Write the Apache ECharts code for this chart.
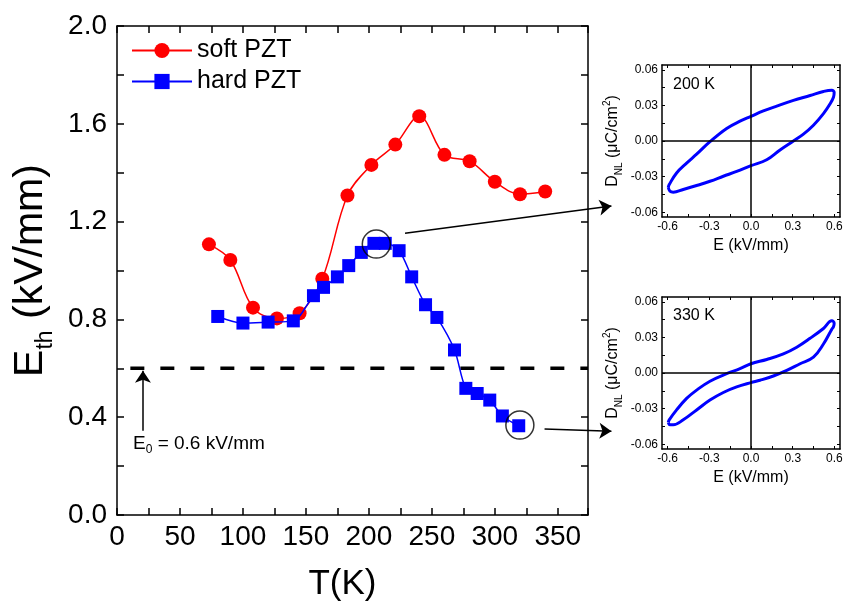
<!DOCTYPE html>
<html><head><meta charset="utf-8">
<script src="https://cdn.jsdelivr.net/npm/echarts@6/dist/echarts.min.js"></script>
<style>html,body{margin:0;padding:0;background:#fff}#c{width:843px;height:601px}</style>
</head><body><div id="c"></div>
<script>
// ---- data ----
const softT = [73, 90, 108, 127, 145, 163, 183, 202, 221, 240, 260, 280, 300, 320, 340];
const softE = [1.107, 1.043, 0.848, 0.804, 0.825, 0.966, 1.307, 1.432, 1.515, 1.631, 1.473, 1.447, 1.363, 1.312, 1.323];
const hardT = [80, 100, 120, 140, 156, 164, 175, 184, 194, 204, 213, 224, 234, 245, 254, 268, 277, 286, 296, 306, 319];
const hardE = [0.812, 0.785, 0.789, 0.794, 0.897, 0.931, 0.974, 1.020, 1.074, 1.111, 1.111, 1.081, 0.974, 0.860, 0.808, 0.675, 0.518, 0.497, 0.470, 0.405, 0.365];
const E0 = 0.6;
const dashStartT = 10.6;
const arrowE0 = [[20.6, 0.345], [20.6, 0.59]];
const circled = [[205.9, 1.108], [319.9, 0.368]];
const conn1 = [[228.7, 1.152], [392.6, 1.2635]];
const conn2 = [[339.5, 0.3516], [392.6, 0.343]];
const loop200 = [[-0.595,-0.039],[-0.588,-0.0367],[-0.535,-0.0269],[-0.463,-0.0186],[-0.391,-0.0111],[-0.295,-0.0006],[-0.175,0.0106],[-0.079,0.0167],[0,0.0208],[0.089,0.0253],[0.185,0.0294],[0.305,0.0342],[0.425,0.0383],[0.521,0.0417],[0.581,0.0428],[0.598,0.0411],[0.593,0.0369],[0.569,0.0314],[0.521,0.0231],[0.449,0.0133],[0.377,0.0058],[0.305,0.0],[0.209,-0.0075],[0.113,-0.0158],[0,-0.0208],[-0.103,-0.0256],[-0.199,-0.0297],[-0.295,-0.0339],[-0.391,-0.0375],[-0.487,-0.0408],[-0.559,-0.0431],[-0.583,-0.0422],[-0.595,-0.039]];
const loop330 = [[-0.595,-0.0415],[-0.588,-0.0395],[-0.535,-0.0311],[-0.463,-0.0214],[-0.391,-0.0144],[-0.295,-0.0069],[-0.175,-0.0006],[-0.079,0.0036],[0,0.0078],[0.113,0.0114],[0.233,0.0161],[0.329,0.0217],[0.425,0.0292],[0.521,0.0375],[0.581,0.0439],[0.598,0.0419],[0.593,0.039],[0.581,0.0369],[0.521,0.0244],[0.449,0.0133],[0.353,0.0078],[0.257,0.0022],[0.161,-0.0025],[0.065,-0.0061],[0,-0.0081],[-0.103,-0.0117],[-0.199,-0.0164],[-0.295,-0.0228],[-0.391,-0.0311],[-0.487,-0.0394],[-0.559,-0.0436],[-0.583,-0.0436],[-0.595,-0.0415]];
const insetXLabels = [-0.6, -0.3, 0, 0.3, 0.6];
const insetXTicks = [-0.6, -0.45, -0.3, -0.15, 0, 0.15, 0.3, 0.45, 0.6];
const insetYLabels = [-0.06, -0.03, 0, 0.03, 0.06];
const insetYTicks = [-0.06, -0.045, -0.03, -0.015, 0, 0.015, 0.03, 0.045, 0.06];

// ---- chart ----
const FF = 'Liberation Sans, Arial, sans-serif';
const chart = echarts.init(document.getElementById('c'));
const axLine = {show: true, onZero: false, lineStyle: {color: '#000', width: 1.5}};

function mainX(pos, labels) {
  return {
    gridIndex: 0, type: 'value', position: pos, min: 0, max: 374, interval: 25,
    axisLine: axLine, splitLine: {show: false},
    axisTick: {show: true, inside: true, length: 7, interval: 0, lineStyle: {color: '#000', width: 1.5}},
    axisLabel: labels ? {show: true, interval: 0, margin: 8, fontSize: 28, fontFamily: FF, color: '#000',
      formatter: v => (v % 50 === 0 && v <= 350) ? String(v) : ''} : {show: false},
    name: labels ? 'T(K)' : '', nameLocation: 'middle', nameGap: 52,
    nameTextStyle: {fontSize: 35, fontFamily: FF, color: '#000', padding: [0, 20, 0, 0]}
  };
}
function mainY(pos, labels) {
  return {
    gridIndex: 0, type: 'value', position: pos, min: 0, max: 2, interval: 0.2,
    axisLine: axLine, splitLine: {show: false},
    axisTick: {show: true, inside: true, length: 7, interval: 0, lineStyle: {color: '#000', width: 1.5}},
    axisLabel: labels ? {show: true, interval: 0, margin: 10, fontSize: 28, fontFamily: FF, color: '#000',
      formatter: v => (Math.round(v * 10) % 4 === 0) ? v.toFixed(1) : ''} : {show: false},
    name: labels ? 'E{sub|th} (kV/mm)' : '', nameLocation: 'middle', nameGap: 60,
    nameTextStyle: {fontSize: 41, fontFamily: FF, color: '#000', lineHeight: 52,
      rich: {sub: {fontSize: 23, lineHeight: 23, verticalAlign: 'bottom', fontFamily: FF, color: '#000'}}}
  };
}
function insetX(g, pos, labels) {
  return {
    gridIndex: g, type: 'value', position: pos, min: -0.64, max: 0.64,
    axisLine: axLine, splitLine: {show: false},
    axisTick: {show: true, inside: true, length: 3, customValues: insetXTicks, lineStyle: {color: '#000', width: 1}},
    axisLabel: labels ? {show: true, customValues: insetXLabels, margin: 4, fontSize: 12, fontFamily: FF, color: '#000',
      formatter: v => v.toFixed(1)} : {show: false},
    name: labels ? 'E (kV/mm)' : '', nameLocation: 'middle', nameGap: 21,
    nameTextStyle: {fontSize: 16, fontFamily: FF, color: '#000'}
  };
}
function insetY(g, pos, labels) {
  return {
    gridIndex: g, type: 'value', position: pos, min: -0.064, max: 0.064,
    axisLine: axLine, splitLine: {show: false},
    axisTick: {show: true, inside: true, length: 3, customValues: insetYTicks, lineStyle: {color: '#000', width: 1}},
    axisLabel: labels ? {show: true, customValues: insetYLabels, margin: 4, fontSize: 12, fontFamily: FF, color: '#000',
      formatter: v => v.toFixed(2)} : {show: false},
    name: labels ? 'D{sub|NL} (μC/cm{sup|2})' : '', nameLocation: 'middle', nameGap: 38,
    nameTextStyle: {fontSize: 16, fontFamily: FF, color: '#000', lineHeight: 22,
      rich: {sub: {fontSize: 10, lineHeight: 10, verticalAlign: 'bottom', fontFamily: FF, color: '#000'},
             sup: {fontSize: 10, lineHeight: 10, verticalAlign: 'top', fontFamily: FF, color: '#000'}}}
  };
}

const zeroLines = {
  silent: true, symbol: ['none', 'none'], label: {show: false},
  lineStyle: {color: '#000', width: 1.5, type: 'solid'},
  data: [{xAxis: 0}, {yAxis: 0}]
};

const option = {
  animation: false,
  backgroundColor: '#fff',
  grid: [
    {left: 117, top: 26, width: 471, height: 489, outerBoundsMode: 'none', containLabel: false},
    {left: 662, top: 65, width: 178, height: 152, outerBoundsMode: 'none', containLabel: false},
    {left: 662, top: 297, width: 178, height: 152, outerBoundsMode: 'none', containLabel: false}
  ],
  xAxis: [mainX('bottom', true), mainX('top', false), insetX(1, 'bottom', true), insetX(1, 'top', false), insetX(2, 'bottom', true), insetX(2, 'top', false)],
  yAxis: [mainY('left', true), mainY('right', false), insetY(1, 'left', true), insetY(1, 'right', false), insetY(2, 'left', true), insetY(2, 'right', false)],
  legend: {
    orient: 'vertical', left: 131, top: 38, padding: 0, itemGap: 6,
    itemWidth: 60, itemHeight: 19,
    textStyle: {fontSize: 25, fontFamily: FF, color: '#000'},
    data: ['soft PZT', 'hard PZT']
  },
  graphic: [
    {type: 'text', left: 673, top: 77, style: {text: '200 K', fontSize: 16, fontFamily: FF, fill: '#000'}},
    {type: 'text', left: 673, top: 308, style: {text: '330 K', fontSize: 16, fontFamily: FF, fill: '#000'}},
    {type: 'text', left: 133, top: 432, style: {text: 'E{sub|0} = 0.6 kV/mm', fontSize: 19, fontFamily: FF, fill: '#000', lineHeight: 24,
      rich: {sub: {fontSize: 12, lineHeight: 12, verticalAlign: 'bottom', fontFamily: FF, fill: '#000'}}}}
  ],
  series: [
    {
      name: 'E0', type: 'line', xAxisIndex: 0, yAxisIndex: 0, showSymbol: false, silent: true,
      data: [[dashStartT, E0], [374, E0]],
      lineStyle: {color: '#000', width: 3.5, type: [14, 16]}, z: 1
    },
    {
      name: 'soft PZT', type: 'line', xAxisIndex: 0, yAxisIndex: 0,
      data: softT.map((t, i) => [t, softE[i]]),
      smooth: 0.35, symbol: 'circle', symbolSize: 14,
      itemStyle: {color: '#ff0000'}, lineStyle: {color: '#ff0000', width: 1.5}, z: 3
    },
    {
      name: 'hard PZT', type: 'line', xAxisIndex: 0, yAxisIndex: 0,
      data: hardT.map((t, i) => [t, hardE[i]]),
      smooth: 0.3, symbol: 'rect', symbolSize: 13,
      itemStyle: {color: '#0000ff'}, lineStyle: {color: '#0000ff', width: 1.5}, z: 4
    },
    {
      name: 'circles', type: 'scatter', xAxisIndex: 0, yAxisIndex: 0, silent: true,
      data: circled, symbol: 'circle', symbolSize: 28,
      itemStyle: {color: 'rgba(0,0,0,0)', borderColor: '#000', borderWidth: 1.5}, z: 5
    },
    {
      name: 'arrows', type: 'lines', coordinateSystem: 'cartesian2d', xAxisIndex: 0, yAxisIndex: 0,
      clip: false, silent: true, symbol: ['none', 'arrow'], symbolSize: 12,
      lineStyle: {color: '#000', width: 1.5, opacity: 1, curveness: 0},
      data: [{coords: arrowE0}, {coords: conn1}, {coords: conn2}], z: 6
    },
    {
      name: 'loop200', type: 'line', xAxisIndex: 2, yAxisIndex: 2, data: loop200,
      smooth: 0.4, showSymbol: false, lineStyle: {color: '#0000ff', width: 3}, markLine: zeroLines
    },
    {
      name: 'loop330', type: 'line', xAxisIndex: 4, yAxisIndex: 4, data: loop330,
      smooth: 0.4, showSymbol: false, lineStyle: {color: '#0000ff', width: 3}, markLine: zeroLines
    }
  ]
};
chart.setOption(option);
</script>
</body></html>
